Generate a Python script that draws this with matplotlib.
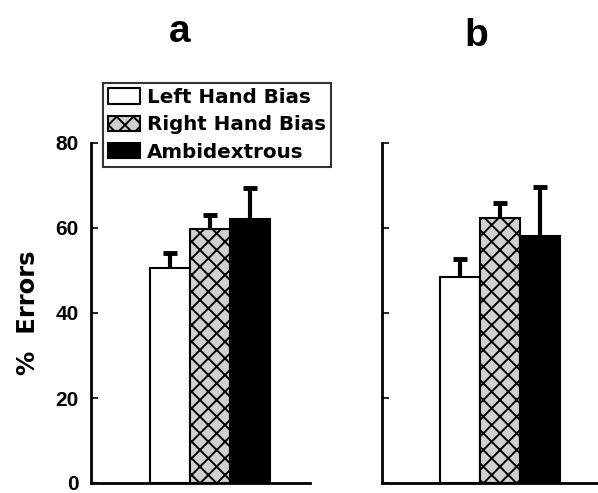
import numpy as np
import matplotlib
matplotlib.use("Agg")
import matplotlib.pyplot as plt
from matplotlib.patches import Patch

# data
groups = ["Left Hand Bias", "Right Hand Bias", "Ambidextrous"]
means_a = [50.7, 59.8, 62.1]
err_a = [3.5, 3.3, 7.4]
means_b = [48.5, 62.4, 58.2]
err_b = [4.2, 3.5, 11.5]
yticks = [0, 20, 40, 60, 80]

plt.rcParams['hatch.linewidth'] = 1.4
plt.rcParams['hatch.color'] = 'black'

faces = ['white', '#d0d0d0', 'black']
hatches = ['', 'xx', '']

W, H = 598, 493
fig = plt.figure(figsize=(W / 100, H / 100), dpi=100)

def box(l, r, b, t):
    return [l / W, 1 - b / H, (r - l) / W, (b - t) / H]

ax_a = fig.add_axes(box(91, 310, 483, 143))
ax_b = fig.add_axes(box(382, 598, 483, 143))

def draw(ax, means, errs, xlim, labels):
    x = np.arange(len(means))
    means = np.array(means)
    tops = means + np.array(errs)
    for i in range(len(means)):
        ax.bar(x[i], means[i], width=1.0, color=faces[i], hatch=hatches[i],
               edgecolor='black', linewidth=1.5, zorder=2)
    # upper error bars only
    ax.vlines(x, means, tops, color='black', linewidth=3, zorder=3)
    ax.hlines(tops, x - 0.18, x + 0.18, color='black', linewidth=3.5, zorder=3)
    ax.set_xlim(*xlim)
    ax.set_ylim(0, 80)
    ax.set_yticks(yticks)
    ax.set_xticks([])
    for s in ['top', 'right']:
        ax.spines[s].set_visible(False)
    for s in ['left', 'bottom']:
        ax.spines[s].set_linewidth(2)
    ax.tick_params(axis='y', direction='in', length=5, width=1.2, pad=9)
    if labels:
        for lab in ax.get_yticklabels():
            lab.set_fontfamily('Liberation Sans')
            lab.set_fontweight('bold')
            lab.set_fontsize(15)
    else:
        ax.set_yticklabels([])

draw(ax_a, means_a, err_a, (-1.975, 3.5), True)
draw(ax_b, means_b, err_b, (-1.95, 3.45), False)

ax_a.set_ylabel('%  Errors', fontfamily='DejaVu Sans', fontweight='bold',
                fontsize=17.5, labelpad=11)

fig.text(180 / W, 1 - 42 / H, 'a', fontfamily='Liberation Sans', fontweight='bold',
         fontsize=28, ha='center', va='baseline')
fig.text(476 / W, 1 - 46 / H, 'b', fontfamily='Liberation Sans', fontweight='bold',
         fontsize=28, ha='center', va='baseline')

handles = [Patch(facecolor=faces[i], hatch=hatches[i], edgecolor='black', linewidth=1.5)
           for i in range(3)]
leg = fig.legend(handles, groups, loc='upper left',
                 bbox_to_anchor=(103 / W, 1 - 83 / H), frameon=True, fancybox=False,
                 prop={'family': 'DejaVu Sans', 'weight': 'bold', 'size': 14.3},
                 handlelength=1.6, handleheight=0.8, handletextpad=0.35,
                 labelspacing=0.42, borderpad=0.25, borderaxespad=0)
leg.get_frame().set_edgecolor('black')
leg.get_frame().set_linewidth(1.5)

fig.savefig('out.png', dpi=100)
